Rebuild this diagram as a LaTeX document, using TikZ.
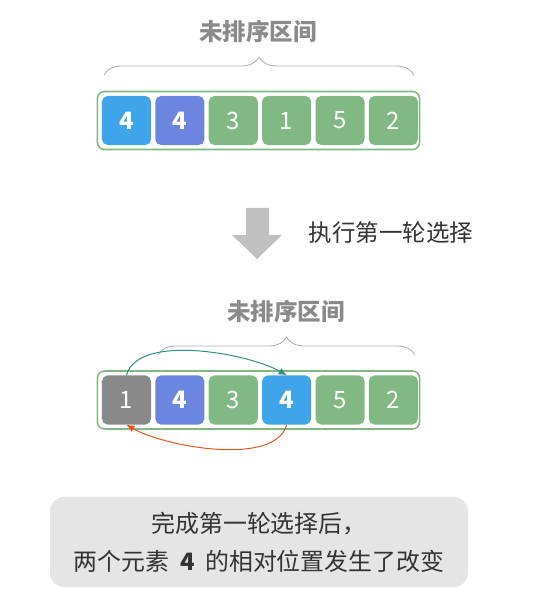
\documentclass[tikz,border=0pt]{standalone}
\usepackage{fontspec}
\setmainfont{Noto Sans CJK SC}
\usepackage{tikz}
\usetikzlibrary{arrows.meta,positioning,fit,decorations.pathreplacing}
\definecolor{cellgreen}{HTML}{82B883}
\definecolor{cellblue}{HTML}{3FA5EA}
\definecolor{cellpurple}{HTML}{6C86DF}
\definecolor{cellgray}{HTML}{898989}
\definecolor{titlegray}{HTML}{8A8A8A}
\definecolor{bracegray}{HTML}{B0B0B0}
\definecolor{stepgray}{HTML}{C0C0C0}
\definecolor{notegray}{HTML}{E5E5E5}
\definecolor{textdark}{HTML}{333333}
\definecolor{swapteal}{HTML}{2F8F82}
\definecolor{swaporange}{HTML}{E8531C}
\tikzset{
  cell/.style={rectangle,rounded corners=4pt,minimum size=1.225cm,inner sep=0pt,
    text=white,font=\fontsize{17}{17}\selectfont},
  greencell/.style={cell,fill=cellgreen},
  bluecell/.style={cell,fill=cellblue,font=\fontsize{17}{17}\selectfont\bfseries},
  purplecell/.style={cell,fill=cellpurple,font=\fontsize{17}{17}\selectfont\bfseries},
  graycell/.style={cell,fill=cellgray},
  arraybox/.style={rectangle,rounded corners=5pt,draw=cellgreen,line width=1.1pt,
    fill=white,inner sep=0.11cm},
  rangetitle/.style={text=titlegray,font=\fontsize{16.7}{16.7}\selectfont\bfseries},
  rangebrace/.style={decorate,decoration={brace,amplitude=0.45cm},draw=bracegray,line width=0.6pt},
  steplabel/.style={text=textdark,font=\fontsize{16.7}{16.7}\selectfont},
  notebox/.style={rectangle,rounded corners=10pt,fill=notegray,text=textdark,align=center,
    minimum width=10.45cm,minimum height=2.25cm,font=\fontsize{17}{27}\selectfont},
  swaparrow/.style={-{Latex[length=2mm,width=1.8mm]},line width=0.7pt}
}

\begin{document}
\begin{tikzpicture}[x=0.025cm,y=0.025cm]
  \useasboundingbox (0,0) rectangle (544,607);
  % before the first round
  \node[rangetitle] (ttitle) at (258,575) {未排序区间};
  \node[arraybox,minimum width=8.05cm,minimum height=1.45cm] (tbox) at (258.5,486.5) {};
  \node[bluecell] (t1) at (126.5,486.5) {4};
  \node[purplecell,right=0.095cm of t1] (t2) {4};
  \node[greencell,right=0.095cm of t2] (t3) {3};
  \node[greencell,right=0.095cm of t3] (t4) {1};
  \node[greencell,right=0.095cm of t4] (t5) {5};
  \node[greencell,right=0.095cm of t5] (t6) {2};
  \coordinate (tl) at (104,532);
  \coordinate (tr) at (414,532);
  \draw[rangebrace] (tl) -- (tr);

  % step
  \fill[stepgray] (246,399) -- (269,399) -- (269,372) -- (282,372) -- (257,348)
    -- (232,372) -- (246,372) -- cycle;
  \node[steplabel,anchor=west] (steptext) at (304,374) {执行第一轮选择};

  % after the first round
  \node[rangetitle] (btitle) at (286,295) {未排序区间};
  \node[arraybox,minimum width=8.05cm,minimum height=1.45cm] (bbox) at (258.5,207) {};
  \node[graycell] (b1) at (126.5,207) {1};
  \node[purplecell,right=0.095cm of b1] (b2) {4};
  \node[greencell,right=0.095cm of b2] (b3) {3};
  \node[bluecell,right=0.095cm of b3] (b4) {4};
  \node[greencell,right=0.095cm of b4] (b5) {5};
  \node[greencell,right=0.095cm of b5] (b6) {2};
  \coordinate (bl) at (158,252);
  \coordinate (br) at (415,252);
  \draw[rangebrace] (bl) -- (br);
  \draw[swaparrow,swapteal] (b1.north) to[out=75,in=150,looseness=0.7] (b4.north);
  \draw[swaparrow,swaporange] (b4.south) to[out=255,in=330,looseness=0.7] (b1.south);

  \node[notebox] (summary) at (259,65) {完成第一轮选择后，\\两个元素\ \ \textbf{4}\ \ 的相对位置发生了改变};
\end{tikzpicture}
\end{document}
